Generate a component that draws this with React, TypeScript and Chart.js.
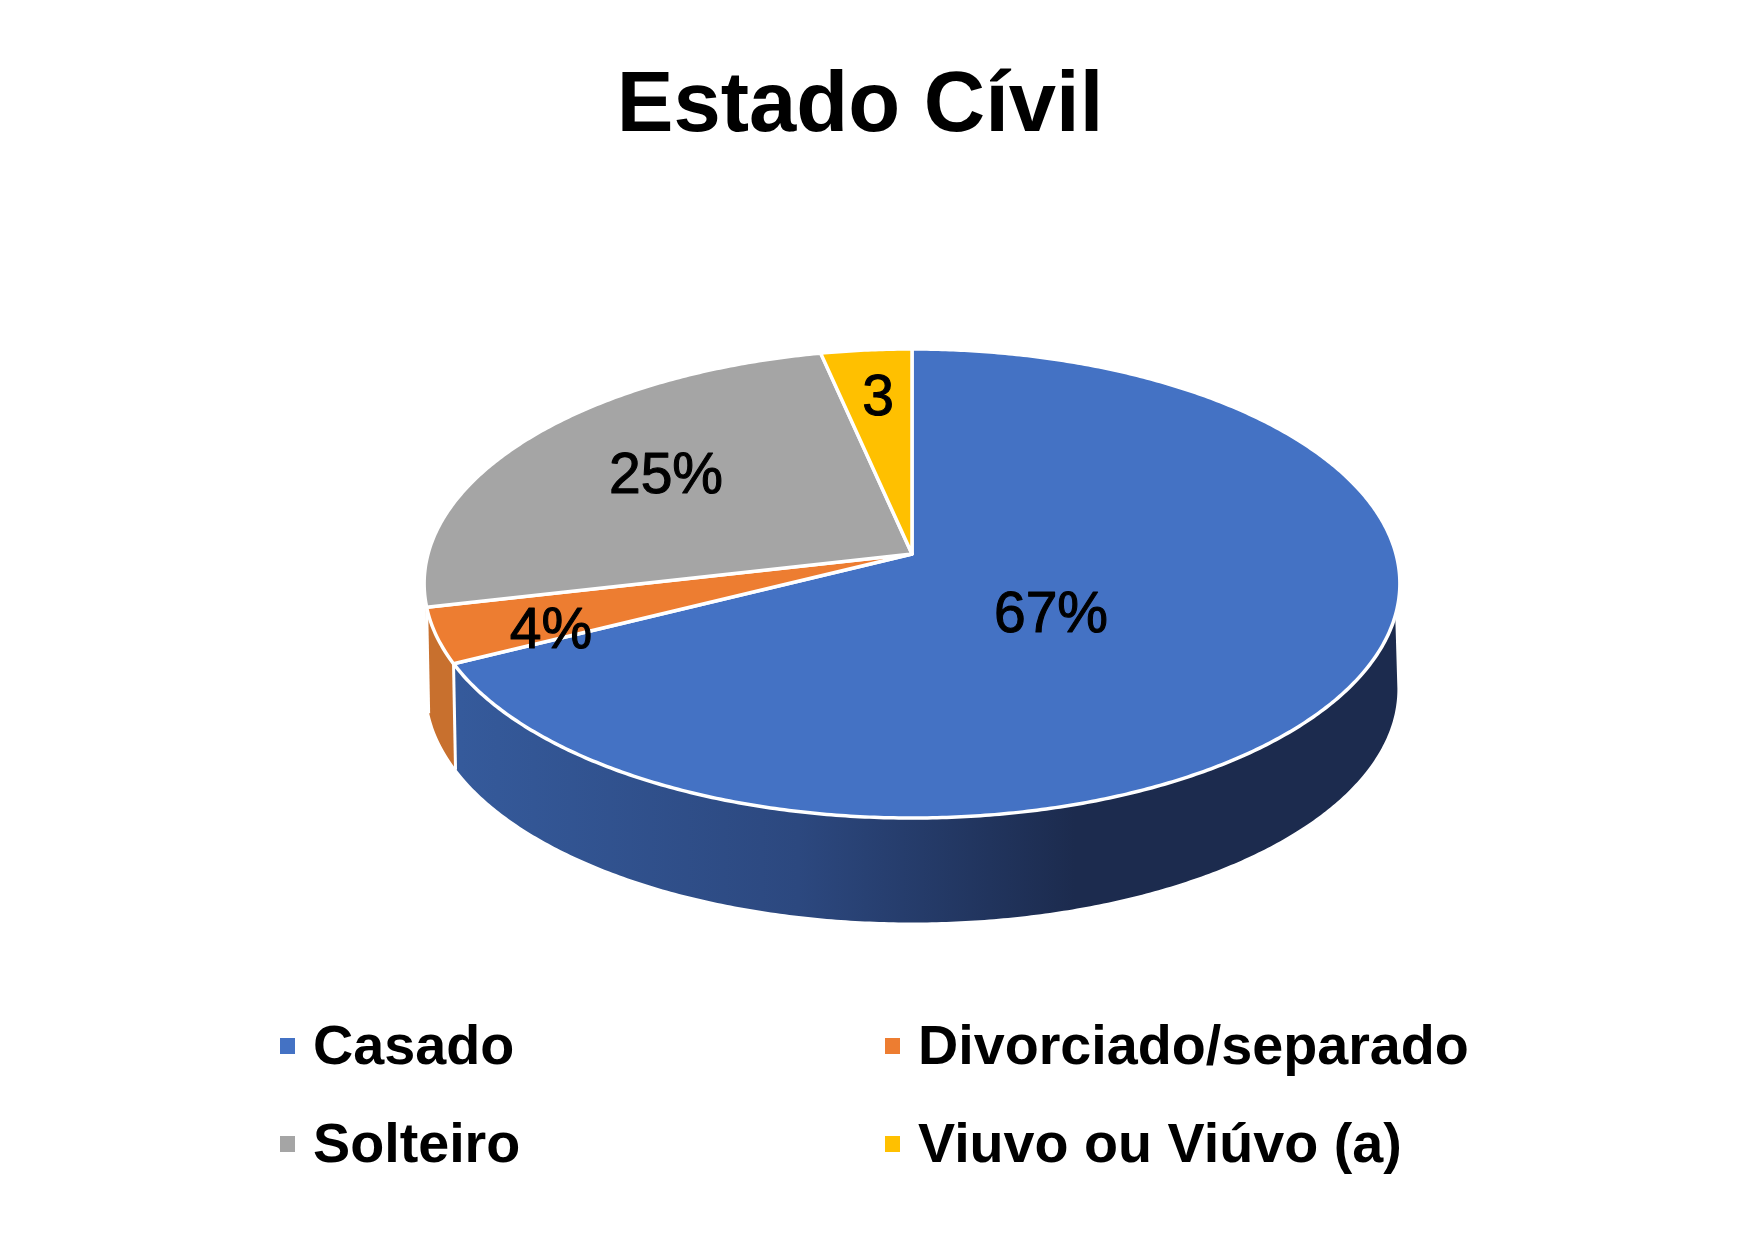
import React, { useEffect, useRef } from "react";
import { Chart, registerables } from "chart.js";

Chart.register(...registerables);

const titleText = "Estado Cívil";
const categories = ["Casado", "Divorciado/separado", "Solteiro", "Viuvo ou Viúvo (a)"];
const seriesValues = [67.6, 3.8, 25.2, 3.4];
const dataLabels = ["67%", "4%", "25%", "3"];
const sliceColors = ["#4472C4", "#ED7D31", "#A5A5A5", "#FFC000"];

// Layout of the perspective disc (canvas pixels)
const disc = { cx: 912, cy: 554, rx: 484, ry: 230.8, persp: -0.1258, depth: 106 };
const labelAnchors = [
  { x: 1051, y: 616 },
  { x: 551, y: 632 },
  { x: 666, y: 477 },
  { x: 878, y: 399 },
];
const legendSlots = [
  { x: 280, y: 1064 },
  { x: 885, y: 1064 },
  { x: 280, y: 1162 },
  { x: 885, y: 1162 },
];
const deg = Math.PI / 180;
const sideStart = 15 * deg;
const sideWide = 7 * deg;
const sideEnd = 168.5 * deg;
const wallBottomScale = 0.995;

const project = (a: number, r = 1, dz = 0) => {
  const u = Math.cos(a) * r;
  const v = Math.sin(a) * r;
  const w = 1 + disc.persp * v;
  return { x: disc.cx + (disc.rx * u) / w, y: disc.cy + (disc.ry * v) / w + dz };
};

const rimPoints = (from: number, to: number, dz = 0, r = 1) => {
  const n = Math.max(2, Math.ceil(Math.abs(to - from) / (0.5 * deg)));
  const pts = [];
  for (let i = 0; i <= n; i++) pts.push(project(from + ((to - from) * i) / n, r, dz));
  return pts;
};

const trace = (ctx: CanvasRenderingContext2D, pts: { x: number; y: number }[], move = true) => {
  pts.forEach((p, i) => (i === 0 && move ? ctx.moveTo(p.x, p.y) : ctx.lineTo(p.x, p.y)));
};

const pie3d = {
  id: "pie3d",
  beforeDatasetsDraw(chart: any) {
    const ctx: CanvasRenderingContext2D = chart.ctx;
    const arcs = chart.getDatasetMeta(0).data;
    ctx.save();
    ctx.lineJoin = "round";

    // extruded wall
    arcs.forEach((arc: any, i: number) => {
      const s = Math.max(arc.startAngle, sideStart);
      const e = Math.min(arc.endAngle, sideEnd);
      if (e <= s) return;
      const bottomTo = Math.max(arc.startAngle, sideWide);
      ctx.beginPath();
      trace(ctx, rimPoints(s, e));
      trace(ctx, rimPoints(e, bottomTo, disc.depth, wallBottomScale), false);
      ctx.closePath();
      if (i === 0) {
        const g = ctx.createLinearGradient(460, 0, 1075, 0);
        g.addColorStop(0, "#355A9B");
        g.addColorStop(0.55, "#2C487F");
        g.addColorStop(1, "#1C2B4E");
        ctx.fillStyle = g;
      } else {
        ctx.fillStyle = "#C8702E";
      }
      ctx.fill();
    });
    // seams between walls
    arcs.forEach((arc: any) => {
      if (arc.endAngle > sideStart && arc.endAngle < sideEnd) {
        const top = project(arc.endAngle);
        ctx.beginPath();
        ctx.moveTo(top.x, top.y);
        ctx.lineTo(top.x + 2, top.y + disc.depth);
        ctx.strokeStyle = "#FFFFFF";
        ctx.lineWidth = 3;
        ctx.stroke();
      }
    });

    // top faces
    arcs.forEach((arc: any) => {
      const apex = project(0, 0);
      ctx.beginPath();
      ctx.moveTo(apex.x, apex.y);
      trace(ctx, rimPoints(arc.startAngle, arc.endAngle), false);
      ctx.closePath();
      ctx.fillStyle = arc.options.backgroundColor;
      ctx.fill();
      ctx.strokeStyle = arc.options.borderColor;
      ctx.lineWidth = arc.options.borderWidth;
      ctx.stroke();
    });

    // data labels
    ctx.fillStyle = "#000000";
    ctx.strokeStyle = "#000000";
    ctx.lineWidth = 1.1;
    ctx.font = "57px 'Liberation Sans'";
    ctx.textAlign = "center";
    ctx.textBaseline = "middle";
    dataLabels.forEach((t, i) => {
      ctx.fillText(t, labelAnchors[i].x, labelAnchors[i].y);
      ctx.strokeText(t, labelAnchors[i].x, labelAnchors[i].y);
    });

    // legend
    ctx.font = "bold 55.7px 'Liberation Sans'";
    ctx.textAlign = "left";
    ctx.textBaseline = "alphabetic";
    chart.data.labels.forEach((t: string, i: number) => {
      const slot = legendSlots[i];
      ctx.fillStyle = sliceColors[i];
      ctx.fillRect(slot.x, slot.y - 26, 15, 16);
      ctx.fillStyle = "#000000";
      ctx.fillText(t, slot.x + 33, slot.y);
    });
    ctx.restore();
    return false;
  },
};

export default function App() {
  const ref = useRef<HTMLCanvasElement>(null);
  useEffect(() => {
    const chart = new Chart(ref.current!, {
      type: "pie",
      data: {
        labels: categories,
        datasets: [
          {
            data: seriesValues,
            backgroundColor: sliceColors,
            borderColor: "#FFFFFF",
            borderWidth: 3.5,
          },
        ],
      },
      options: {
        responsive: false,
        animation: false,
        layout: { padding: { right: 29 } },
        plugins: {
          legend: { display: false },
          tooltip: { enabled: false },
          title: {
            display: true,
            text: titleText,
            color: "#000000",
            font: { family: "'Liberation Sans'", size: 85, weight: "bold" },
            padding: { top: 57, bottom: 20 },
          },
        },
      },
      plugins: [pie3d],
    } as any);
    return () => chart.destroy();
  }, []);
  return (
    <div style={{ position: "absolute", left: 0, top: 0, width: 1749, height: 1241 }}>
      <canvas ref={ref} width={1749} height={1241} style={{ display: "block", filter: "blur(0.7px)" }} />
    </div>
  );
}
